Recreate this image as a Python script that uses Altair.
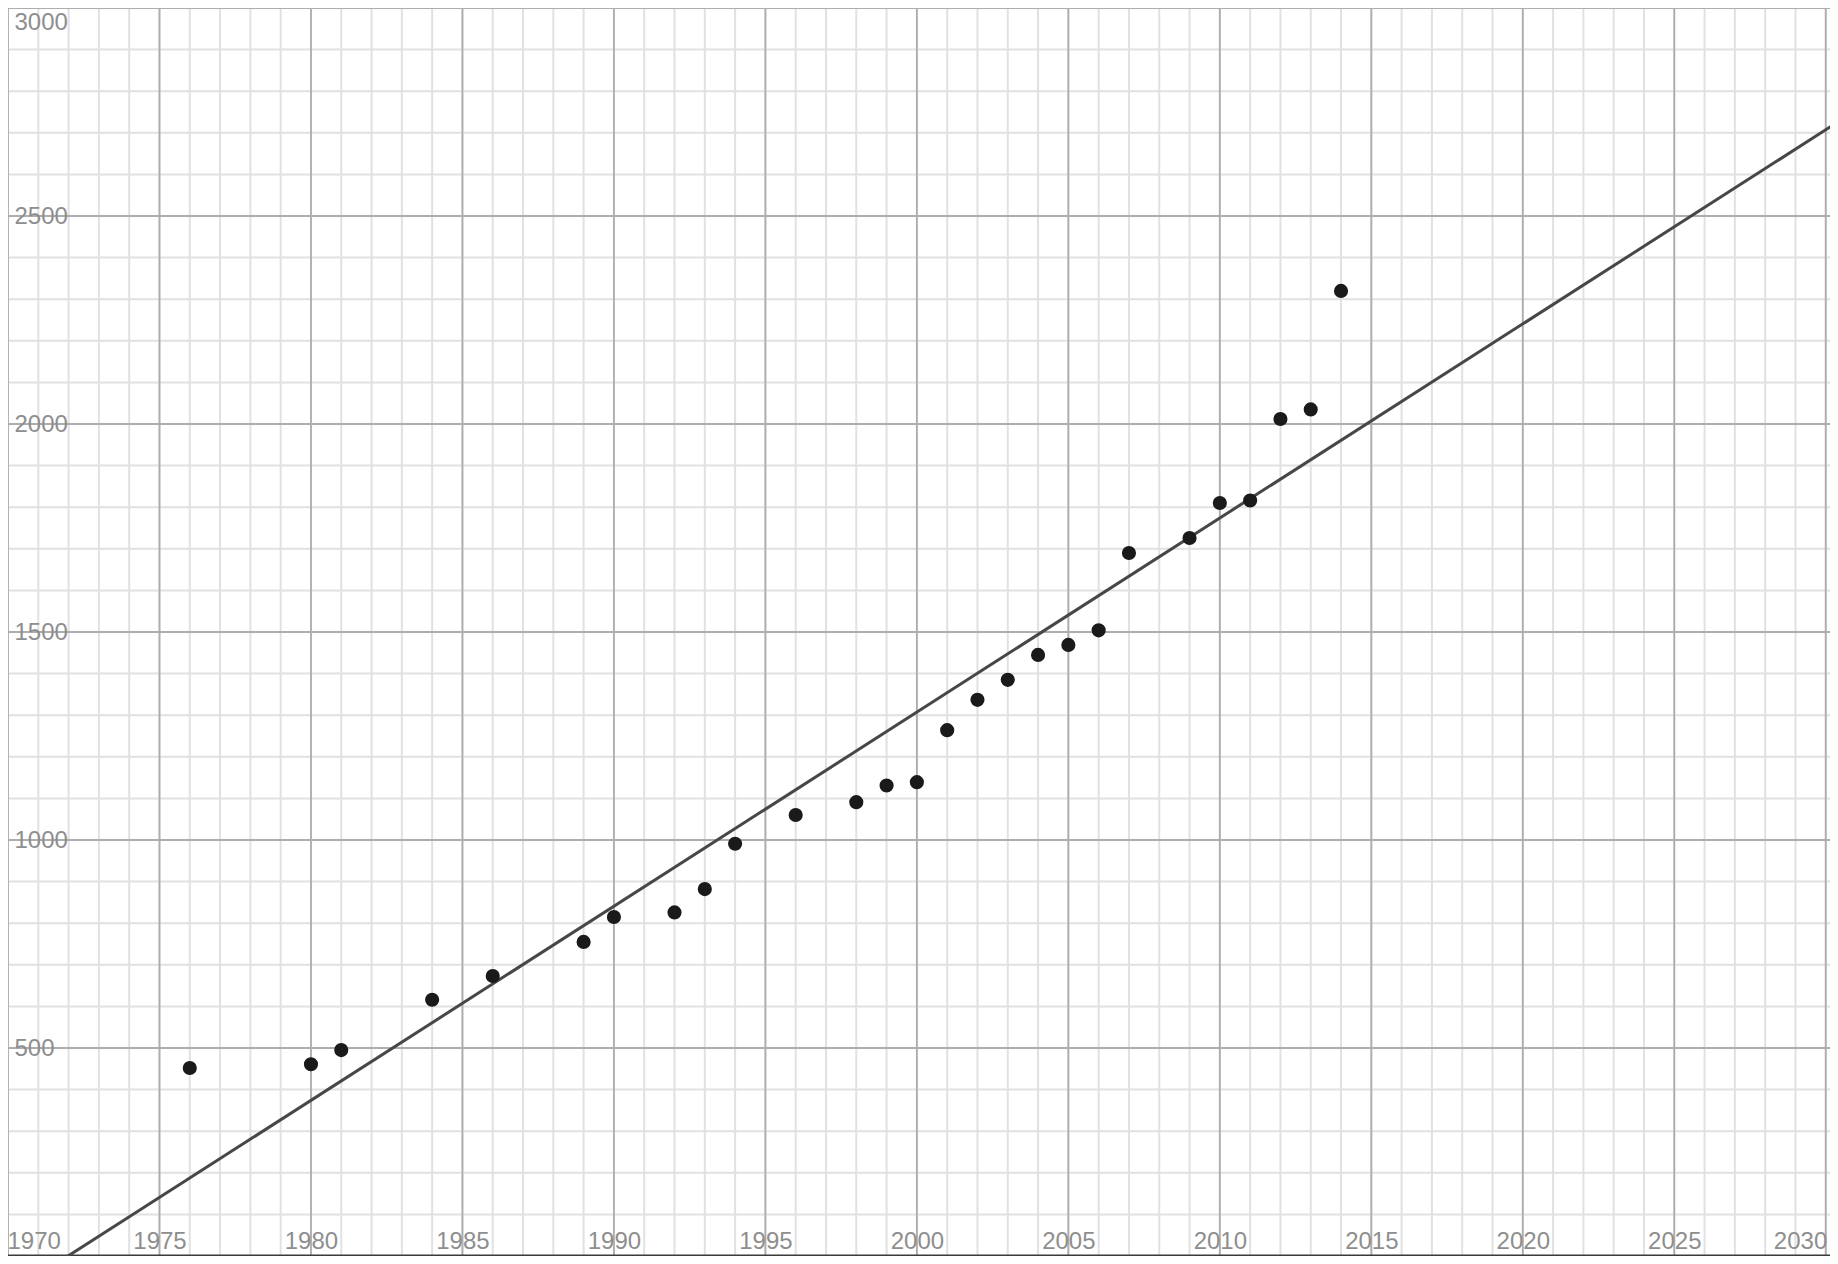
import altair as alt
import pandas as pd

# ---- data ----
years = [1976, 1980, 1981, 1984, 1986, 1989, 1990, 1992, 1993, 1994, 1996, 1998, 1999,
         2000, 2001, 2002, 2003, 2004, 2005, 2006, 2007, 2009, 2010, 2011, 2012, 2013, 2014]
values = [452, 461, 495, 616, 673, 755, 815, 826, 882, 991, 1060, 1091, 1131,
          1139, 1264, 1337, 1385, 1445, 1469, 1504, 1690, 1726, 1810, 1816, 2012, 2035, 2320]

# grid / tick positions
x_major = [1970, 1975, 1980, 1985, 1990, 1995, 2000, 2005, 2010, 2015, 2020, 2025, 2030]
x_minor = list(range(1970, 2031))
y_major = [0, 500, 1000, 1500, 2000, 2500, 3000]
y_minor = list(range(0, 3001, 100))
x_labels = x_major
y_labels = [500, 1000, 1500, 2000, 2500, 3000]
axis_zero = [0]

W, H = 1822, 1248
xs = alt.Scale(domain=[1970, 2030.14], nice=False, zero=False)
ys = alt.Scale(domain=[0, 3000], nice=False, zero=False)

LABEL_COLOR = "#8e8e8e"
xa = alt.Axis(values=x_labels, title=None, grid=False, domain=False, ticks=False, tickSize=0,
              labelPadding=-8, labelBaseline="alphabetic", labelFlush=12, labelFlushOffset=1,
              labelOverlap=False, labelColor=LABEL_COLOR, labelFontSize=24,
              labelFont="Liberation Sans", format="d", zindex=1)
ya = alt.Axis(values=y_labels, title=None, grid=False, domain=False, ticks=False, tickSize=0,
              labelPadding=-6, labelAlign="left", labelFlush=True, labelFlushOffset=-2,
              labelOverlap=False, labelColor=LABEL_COLOR, labelFontSize=24,
              labelFont="Liberation Sans", format="d", zindex=1)

df = pd.DataFrame({"year": years, "value": values})

def vrules(vals, color, width):
    return alt.Chart(pd.DataFrame({"year": vals})).mark_rule(color=color, strokeWidth=width).encode(
        x=alt.X("year:Q", scale=xs, axis=xa))

def hrules(vals, color, width):
    return alt.Chart(pd.DataFrame({"value": vals})).mark_rule(color=color, strokeWidth=width).encode(
        y=alt.Y("value:Q", scale=ys, axis=ya))

minor_v = vrules(x_minor, "#e1e1e1", 2)
minor_h = hrules(y_minor, "#e1e1e1", 2)
major_v = vrules(x_major, "#adadad", 1.8)
major_h = hrules(y_major, "#adadad", 1.8)
zero_line = hrules(axis_zero, "#3a3a3a", 3)

fit = alt.Chart(df).transform_regression(
    "year", "value", extent=[1968, 2032]
).mark_line(color="#474747", strokeWidth=3, clip=True).encode(
    x=alt.X("year:Q", scale=xs, axis=xa),
    y=alt.Y("value:Q", scale=ys, axis=ya),
)

points = alt.Chart(df).mark_circle(size=200, color="#1a1a1a", opacity=1).encode(
    x=alt.X("year:Q", scale=xs, axis=xa),
    y=alt.Y("value:Q", scale=ys, axis=ya),
)

chart = alt.layer(minor_v, minor_h, major_v, major_h, zero_line, fit, points).properties(
    width=W, height=H, padding=0, autosize=alt.AutoSizeParams(type="none"),
    background="white",
).configure_view(stroke=None)

chart.save("out.html", embed_options={"renderer": "svg", "actions": False})
